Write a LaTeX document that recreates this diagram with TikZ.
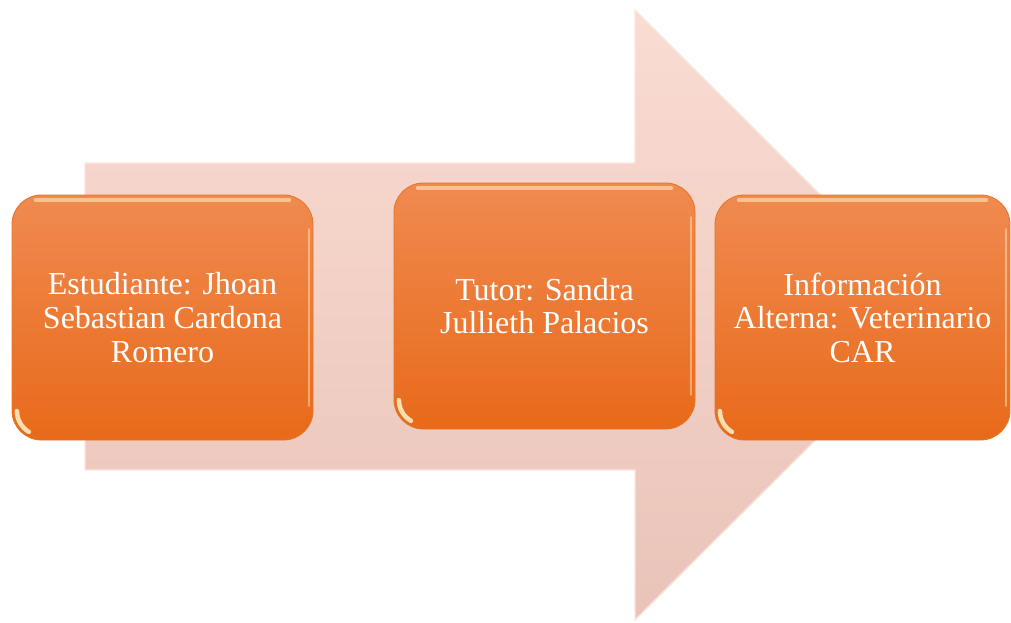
\documentclass[tikz,border=0pt]{standalone}
\usepackage{fontspec}
\setmainfont{Liberation Serif}
\definecolor{arrtop}{HTML}{FADCD2}
\definecolor{arrbot}{HTML}{E9C3B8}
\definecolor{arredge}{HTML}{FBE5DE}
\definecolor{boxtop}{HTML}{F08A50}
\definecolor{boxbot}{HTML}{E86A1A}
\definecolor{boxedge}{HTML}{E57424}
\definecolor{glint}{HTML}{FFF3C8}
\begin{document}
\begin{tikzpicture}[x=0.75pt,y=-0.75pt,
  box/.style={rounded corners=22pt, top color=boxtop, bottom color=boxbot,
    draw=boxedge, line width=0.6pt, text=white, align=center,
    font=\fontsize{24}{25.2}\selectfont, inner sep=0pt},
  glinttop/.style={line width=2.6pt, draw=glint, opacity=0.55, line cap=round},
  glintside/.style={line width=1.6pt, draw=glint, opacity=0.45, line cap=round},
  glintcorner/.style={line width=3.4pt, draw=glint, opacity=0.85, line cap=round}
  ]
\useasboundingbox (0,0) rectangle (1011,622);
% big arrow
\path[top color=arrtop, bottom color=arrbot, draw=arredge, line width=1pt]
  (85,163) -- (635,163) -- (635,10) -- (941,315) -- (635,620) -- (635,470) -- (85,470) -- cycle;
% boxes
\node[box, minimum width=225.75pt, minimum height=183.75pt] (b1) at (162.5,317.5)
  {Estudiante: Jhoan\\Sebastian Cardona\\Romero};
\node[box, minimum width=225.75pt, minimum height=184.5pt] (b2) at (544.5,306)
  {Tutor: Sandra\\Jullieth Palacios};
\node[box, minimum width=221.25pt, minimum height=183.75pt] (b3) at (862.5,317.5)
  {Información\\Alterna: Veterinario\\CAR};
% glints
\foreach \b in {b1,b2,b3}{
  \draw[glinttop] ([xshift=18pt,yshift=-4pt]\b.north west) -- ([xshift=-18pt,yshift=-4pt]\b.north east);
  \draw[glintside] ([xshift=-3pt,yshift=-26pt]\b.north east) -- ([xshift=-3pt,yshift=26pt]\b.south east);
  \draw[glintcorner] ([xshift=4pt,yshift=22pt]\b.south west) arc[start angle=180,end angle=240,radius=18pt];
}
\end{tikzpicture}
\end{document}
